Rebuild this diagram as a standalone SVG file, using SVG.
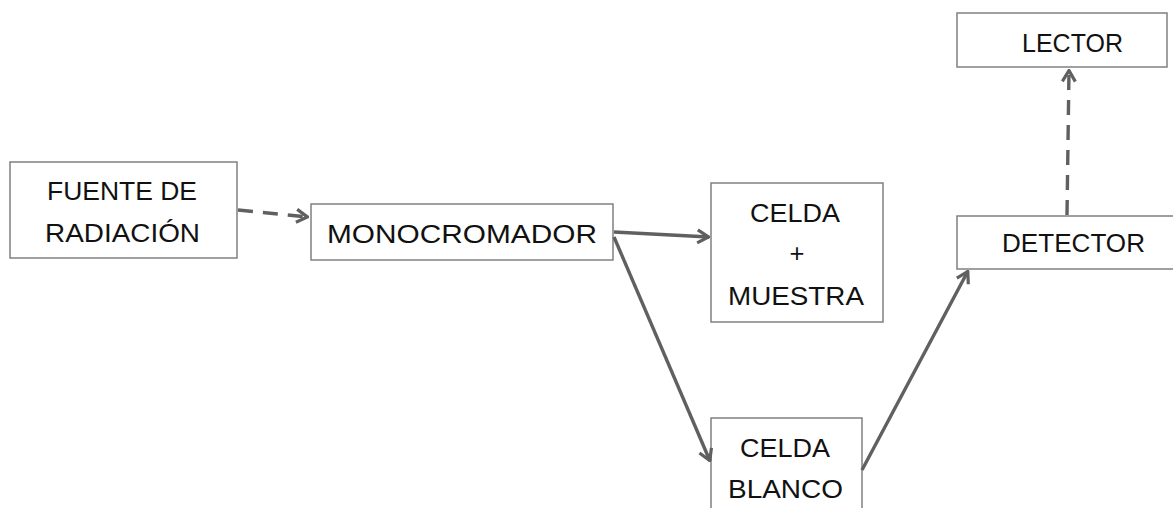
<svg xmlns="http://www.w3.org/2000/svg" width="1173" height="508" viewBox="0 0 1173 508">
<style>
.box{fill:#fff;stroke:#808080;stroke-width:1.5}
.t{font-family:"Liberation Sans",Arial,sans-serif;font-size:25.5px;fill:#111}
.c{fill:none;stroke:#606060;stroke-width:3.4}
.d{stroke-dasharray:15 10}
</style>
<defs>
<marker id="ah" viewBox="0 0 14 16" refX="13" refY="8" markerWidth="14" markerHeight="16" markerUnits="userSpaceOnUse" orient="auto">
<path d="M1.5,1.5 L12.5,8 L1.5,14.5" fill="none" stroke="#606060" stroke-width="3.2" stroke-linejoin="miter"/>
</marker>
</defs>
<g id="fuente">
<rect class="box" x="10" y="162" width="227" height="96"/>
<text class="t" x="47" y="200" textLength="150" lengthAdjust="spacingAndGlyphs">FUENTE DE</text>
<text class="t" x="45" y="242" textLength="155" lengthAdjust="spacingAndGlyphs">RADIACIÓN</text>
</g>
<g id="monocromador">
<rect class="box" x="311" y="204" width="302" height="56"/>
<text class="t" x="327" y="243" textLength="270" lengthAdjust="spacingAndGlyphs">MONOCROMADOR</text>
</g>
<g id="celda-muestra">
<rect class="box" x="711" y="183" width="172" height="139"/>
<text class="t" x="750" y="222" textLength="90" lengthAdjust="spacingAndGlyphs">CELDA</text>
<text class="t" x="797" y="262" text-anchor="middle">+</text>
<text class="t" x="728" y="305" textLength="136" lengthAdjust="spacingAndGlyphs">MUESTRA</text>
</g>
<g id="celda-blanco">
<rect class="box" x="711" y="418" width="151" height="100"/>
<text class="t" x="740" y="457" textLength="90" lengthAdjust="spacingAndGlyphs">CELDA</text>
<text class="t" x="728" y="498" textLength="115" lengthAdjust="spacingAndGlyphs">BLANCO</text>
</g>
<g id="detector">
<rect class="box" x="957" y="216" width="220" height="53"/>
<text class="t" x="1002" y="252" textLength="143" lengthAdjust="spacingAndGlyphs">DETECTOR</text>
</g>
<g id="lector">
<rect class="box" x="957" y="13" width="210" height="54"/>
<text class="t" x="1022" y="52" textLength="101" lengthAdjust="spacingAndGlyphs">LECTOR</text>
</g>
<g id="connectors">
<path class="c d" d="M238,210 L308,217" marker-end="url(#ah)"/>
<path class="c" d="M614,232 L709,237" marker-end="url(#ah)"/>
<path class="c" d="M614,237 L710,461" marker-end="url(#ah)"/>
<path class="c" d="M862,470 L968,271" marker-end="url(#ah)"/>
<path class="c d" d="M1067,215 L1069,70" marker-end="url(#ah)"/>
</g>
</svg>
